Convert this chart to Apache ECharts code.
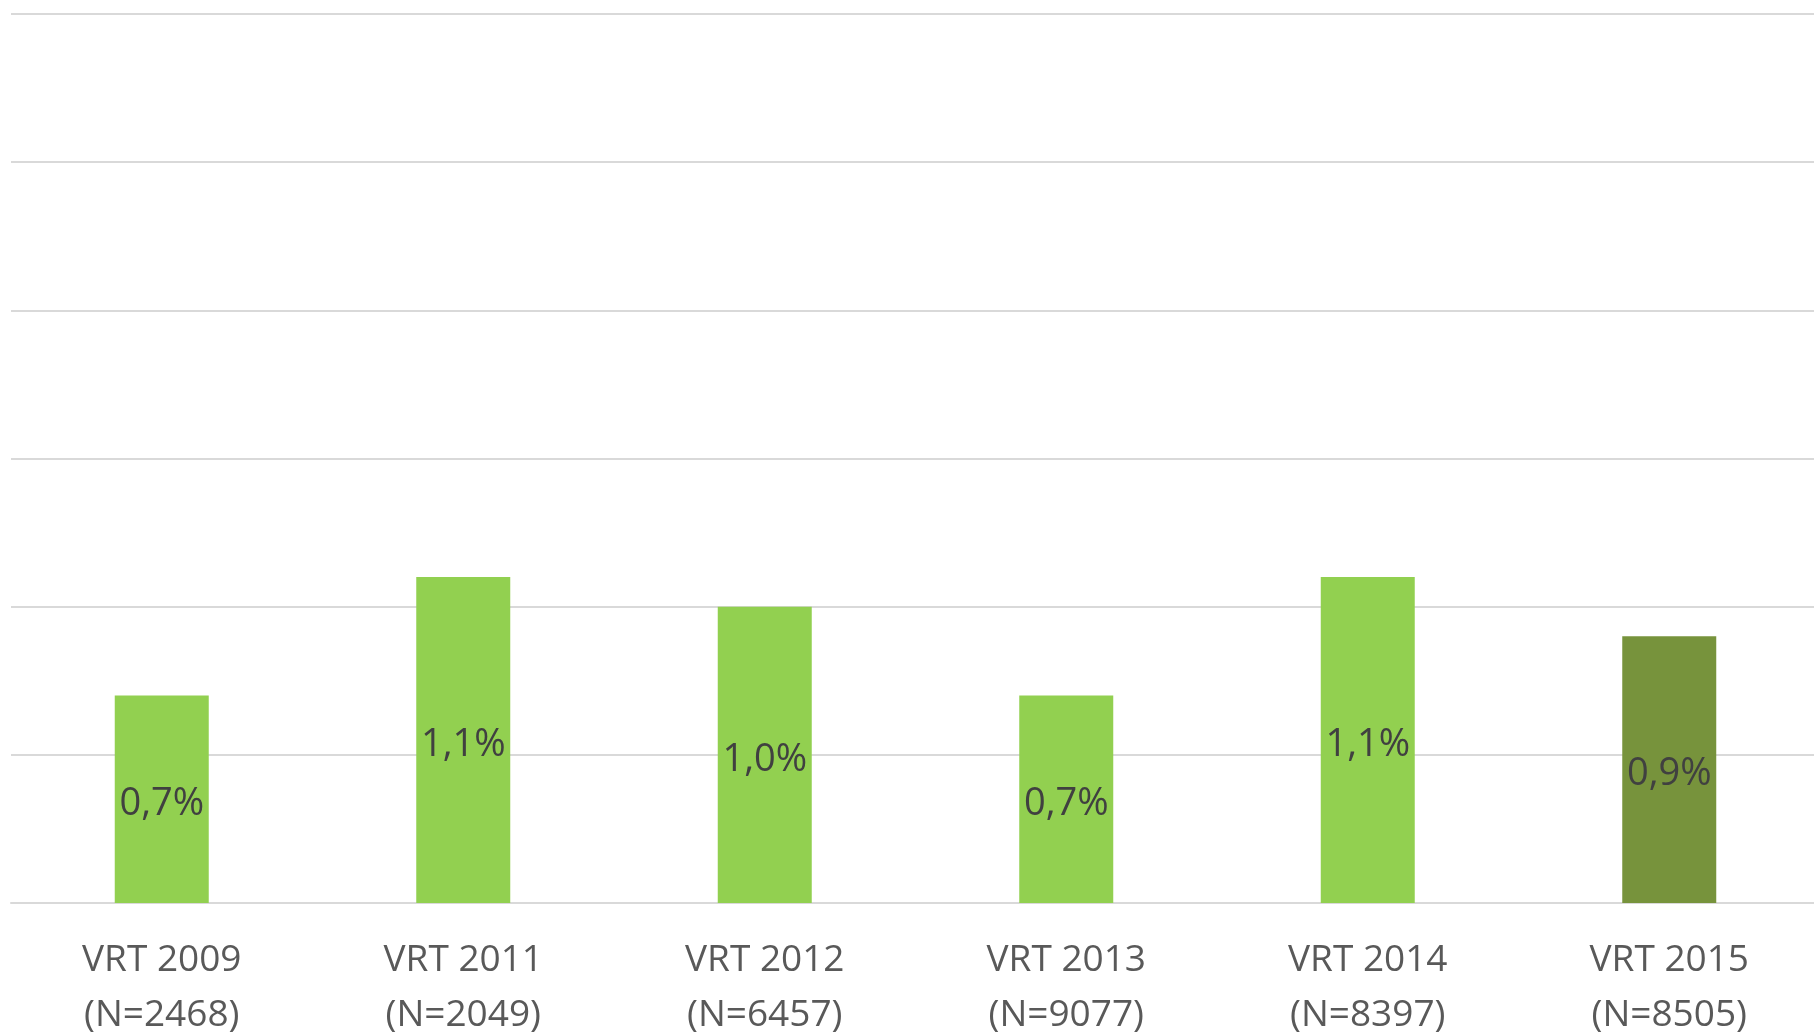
<!DOCTYPE html>
<html>
<head>
<meta charset="utf-8">
<script src="https://cdn.jsdelivr.net/npm/echarts@6/dist/echarts.min.js"></script>
<style>
html, body { margin: 0; padding: 0; background: #fff; }
#container { width: 1814px; height: 1032px; }
</style>
</head>
<body>
<div id="container"></div>
<script>
var categories = ['VRT 2009\n(N=2468)', 'VRT 2011\n(N=2049)', 'VRT 2012\n(N=6457)', 'VRT 2013\n(N=9077)', 'VRT 2014\n(N=8397)', 'VRT 2015\n(N=8505)'];
var values = [0.7, 1.1, 1.0, 0.7, 1.1, 0.9];
var barColors = ['#92D050', '#92D050', '#92D050', '#92D050', '#92D050', '#77933C'];

var myChart = echarts.init(document.getElementById('container'));

var data = [];
for (var i = 0; i < values.length; i++) {
    data.push({ value: values[i], itemStyle: { color: barColors[i] } });
}

var option = {
    animation: false,
    grid: { left: 11, right: -6, top: 14, bottom: 129, containLabel: false, outerBoundsMode: 'none' },
    xAxis: {
        type: 'category',
        data: categories,
        axisLine: { lineStyle: { color: '#D9D9D9', width: 2 } },
        axisTick: { show: false },
        axisLabel: {
            color: '#595959',
            fontFamily: 'Open Sans',
            fontSize: 37,
            lineHeight: 55,
            margin: 30,
            interval: 0
        }
    },
    yAxis: {
        type: 'value',
        min: 0,
        max: 3,
        interval: 0.5,
        axisLabel: { show: false },
        axisLine: { show: false },
        axisTick: { show: false },
        splitLine: { lineStyle: { color: '#D9D9D9', width: 2 } }
    },
    series: [{
        type: 'bar',
        data: data,
        barWidth: 94,
        label: {
            show: true,
            position: 'inside',
            offset: [0, 5],
            color: '#404040',
            fontFamily: 'Open Sans',
            fontSize: 38,
            formatter: function (p) {
                return p.value.toFixed(1).replace('.', ',') + '%';
            }
        }
    }]
};

myChart.setOption(option);
</script>
</body>
</html>
